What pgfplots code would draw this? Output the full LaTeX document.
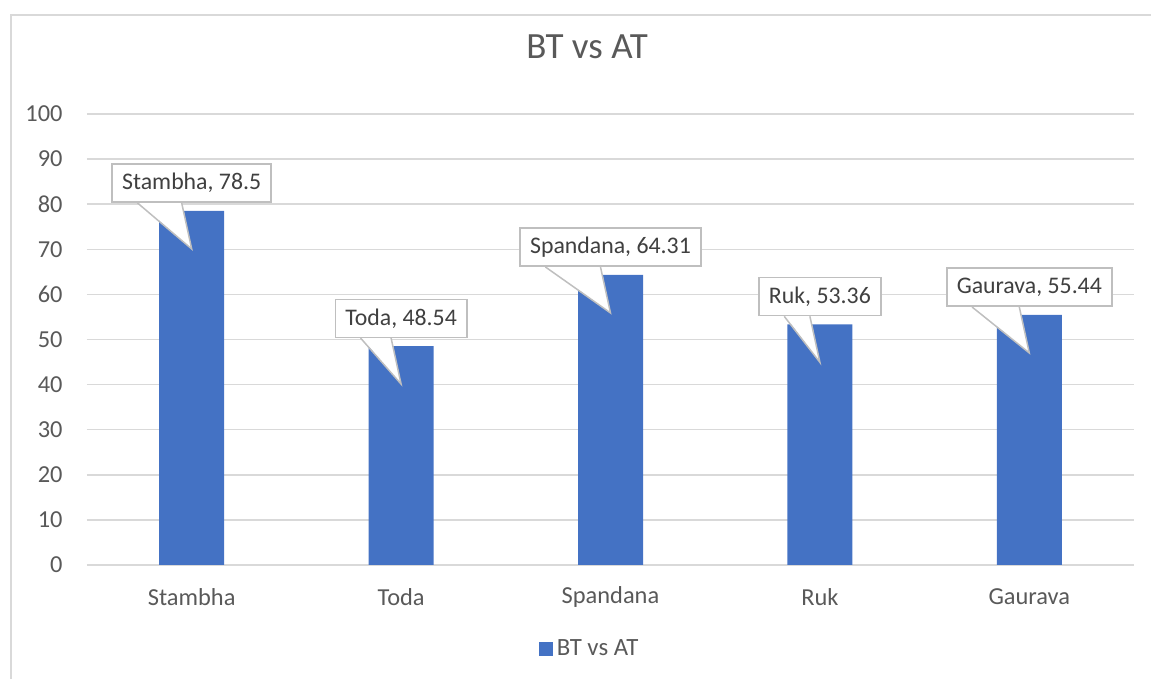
\documentclass[border=0pt]{standalone}
\usepackage{pgfplots}
\usepackage{pgfplotstable}
\pgfplotsset{compat=1.18}
\usepackage{fontspec}
\setmainfont{Carlito}

\definecolor{barblue}{HTML}{4472C4}
\definecolor{textgray}{HTML}{595959}
\definecolor{labelgray}{HTML}{404040}
\definecolor{gridgray}{HTML}{D9D9D9}
\definecolor{calloutgray}{HTML}{BFBFBF}

\pgfplotstableread[col sep=semicolon]{
x;y;name;label
0;78.5;Stambha;Stambha, 78.5
1;48.54;Toda;Toda, 48.54
2;64.31;Spandana;Spandana, 64.31
3;53.36;Ruk;Ruk, 53.36
4;55.44;Gaurava;Gaurava, 55.44
}\datatable

\begin{document}
\begin{tikzpicture}
\useasboundingbox (0,0) rectangle (575.5pt,339.5pt);
% chart frame (cropped at right and bottom)
\draw[gridgray, line width=0.75pt] (5.5pt,0) -- (5.5pt,332pt) -- (575.5pt,332pt);
\begin{axis}[
  at={(43.5pt,57pt)}, anchor=south west,
  scale only axis,
  width=523.5pt, height=225.5pt,
  clip=false,
  ybar, bar width=32.5pt,
  xmin=-0.5, xmax=4.5,
  ymin=0, ymax=100,
  ytick={0,10,...,100},
  xtick=data,
  xticklabels from table={\datatable}{name},
  axis line style={draw=none},
  major tick length=0pt,
  ymajorgrids,
  major grid style={gridgray, line width=0.75pt},
  /pgf/number format/assume math mode=true,
  ticklabel style={font=\fontsize{12.2}{14}\selectfont, text=textgray},
  yticklabel style={anchor=east, inner sep=0pt, xshift=-12pt},
  xticklabel style={anchor=center, inner sep=0pt, yshift=-16pt},
  title={BT vs AT},
  title style={at={(0.4776,1)}, anchor=center, yshift=27.5pt,
    font=\fontsize{18.5}{22}\selectfont, text=textgray},
  legend style={at={(0.481,0)}, anchor=center, yshift=-42pt, draw=none, fill=none,
    font=\fontsize{12.4}{14}\selectfont, text=textgray},
  legend image code/.code={\fill[barblue] (0pt,-3.5pt) rectangle (7pt,3.5pt);},
  point meta=explicit symbolic,
  nodes near coords,
  every node near coord/.append style={
    anchor=south, yshift=4pt,
    font=\fontsize{11.9}{14}\selectfont, text=labelgray,
    fill=white, draw=calloutgray, line width=0.75pt,
    inner xsep=5pt, inner ysep=0pt, minimum height=19pt,
    append after command={\pgfextra{
      \path[fill=white, draw=none] ([xshift=13pt,yshift=0.6pt]\tikzlastnode.south west)
        -- ([yshift=-23pt]\tikzlastnode.south)
        -- ([xshift=-5pt,yshift=0.6pt]\tikzlastnode.south) -- cycle;
      \path[draw=calloutgray, fill=none, line width=0.75pt, line join=miter]
        ([xshift=13pt]\tikzlastnode.south west)
        -- ([yshift=-23pt]\tikzlastnode.south)
        -- ([xshift=-5pt]\tikzlastnode.south);
    }}
  },
]
\addplot[fill=barblue, draw=none] table[x=x, y=y, meta=label] {\datatable};
\addlegendentry{BT vs AT}
\end{axis}
\end{tikzpicture}
\end{document}
